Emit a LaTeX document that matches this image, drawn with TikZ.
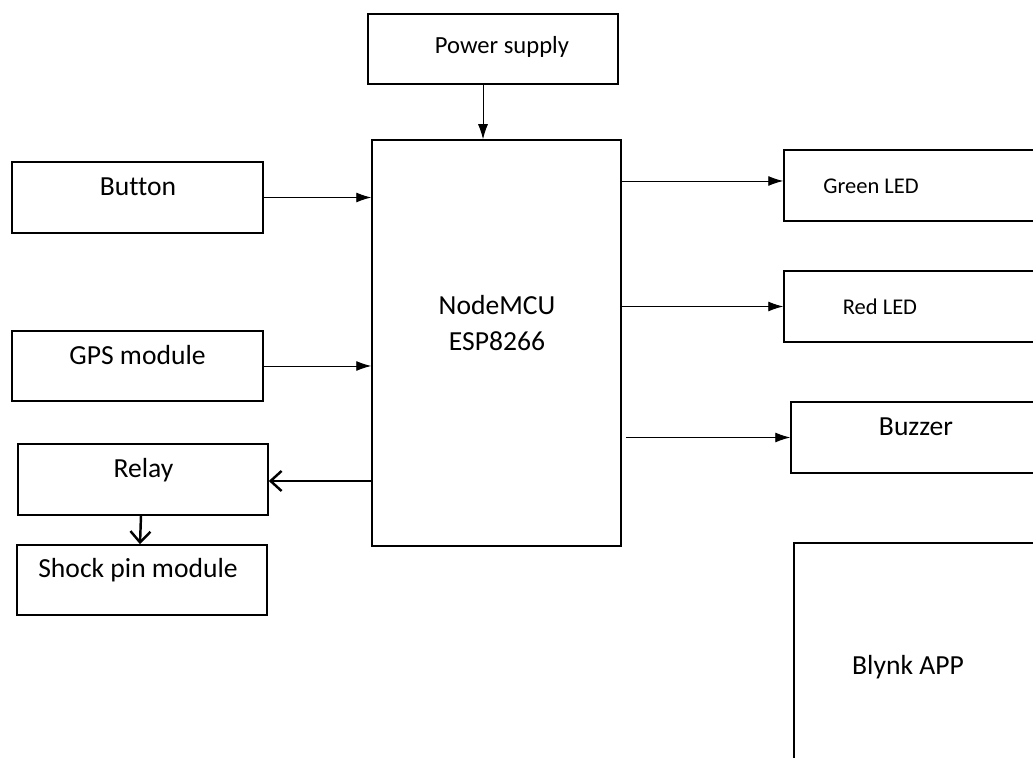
\documentclass[tikz,border=0pt]{standalone}
\usepackage{fontspec}
\setmainfont{Carlito}[Ligatures=NoCommon]
\usetikzlibrary{arrows.meta}
\tikzset{
  blk/.style={draw, line width=0.85pt, inner sep=0pt},
  lbl/.style={font=\fontsize{15.7}{19}\selectfont, inner sep=0pt},
  arr/.style={-{Latex[length=0.3cm,width=0.2cm]}, line width=0.55pt},
  barb/.style={-{Straight Barb[length=0.22cm,width=0.4cm]}, line width=1.4pt}
}

\begin{document}
\begin{tikzpicture}
        \useasboundingbox (0,0) rectangle (20.66,15.16);
        % boxes
        \node[blk, minimum width=5.0cm, minimum height=1.4cm] (power) at (9.86,14.18) {};
        \node[lbl, font=\fontsize{14}{17}\selectfont] (power-txt) at (10.04,14.22) {Power supply};
        \node[blk, minimum width=4.98cm, minimum height=8.12cm] (mcu) at (9.93,8.30) {};
        \node[lbl, align=center, font=\fontsize{15.7}{21}\selectfont] (mcu-txt) at (9.94,8.70) {NodeMCU\\ESP8266};
        \node[blk, minimum width=5.02cm, minimum height=1.42cm] (button) at (2.75,11.21) {};
        \node[lbl] (button-txt) at (2.76,11.42) {Button};
        \node[blk, minimum width=5.02cm, minimum height=1.4cm] (gps) at (2.75,7.84) {};
        \node[lbl] (gps-txt) at (2.75,8.06) {GPS module};
        \node[blk, minimum width=5.0cm, minimum height=1.42cm] (relay) at (2.86,5.57) {};
        \node[lbl] (relay-txt) at (2.87,5.76) {Relay};
        \node[blk, minimum width=5.0cm, minimum height=1.4cm] (shock) at (2.84,3.56) {};
        \node[lbl] (shock-txt) at (2.76,3.76) {Shock pin module};
        \node[blk, minimum width=5.02cm, minimum height=1.42cm] (green) at (18.19,11.45) {};
        \node[lbl, font=\fontsize{12.8}{15}\selectfont] (green-txt) at (17.42,11.44) {Green LED};
        \node[blk, minimum width=5.02cm, minimum height=1.42cm] (red) at (18.19,9.03) {};
        \node[lbl, font=\fontsize{12.8}{15}\selectfont] (red-txt) at (17.6,9.02) {Red LED};
        \node[blk, minimum width=4.88cm, minimum height=1.42cm] (buzzer) at (18.26,6.41) {};
        \node[lbl] (buzzer-txt) at (18.32,6.62) {Buzzer};
        \node[blk, minimum width=4.92cm, minimum height=4.64cm] (blynk) at (18.34,1.98) {};
        \node[lbl] (blynk-txt) at (18.16,1.82) {Blynk APP};
        % connectors
        \draw[arr] ([xshift=-0.2cm]power.south) -- ([xshift=-0.2cm]power.south |- mcu.north);
        \draw[arr] (button.east) -- (button.east -| mcu.west);
        \draw[arr] (gps.east) -- (gps.east -| mcu.west);
        \draw[barb] ([yshift=-0.03cm]relay.east -| mcu.west) -- ([yshift=-0.03cm]relay.east);
        \draw[barb] ([xshift=-0.04cm]relay.south) -- ([xshift=-0.04cm]shock.north);
        \draw[arr] ([yshift=0.09cm]green.west -| mcu.east) -- ([yshift=0.09cm]green.west);
        \draw[arr] (red.west -| mcu.east) -- (red.west);
        \draw[arr] ([xshift=0.08cm]buzzer.west -| mcu.east) -- (buzzer.west);
      \end{tikzpicture}
\end{document}
